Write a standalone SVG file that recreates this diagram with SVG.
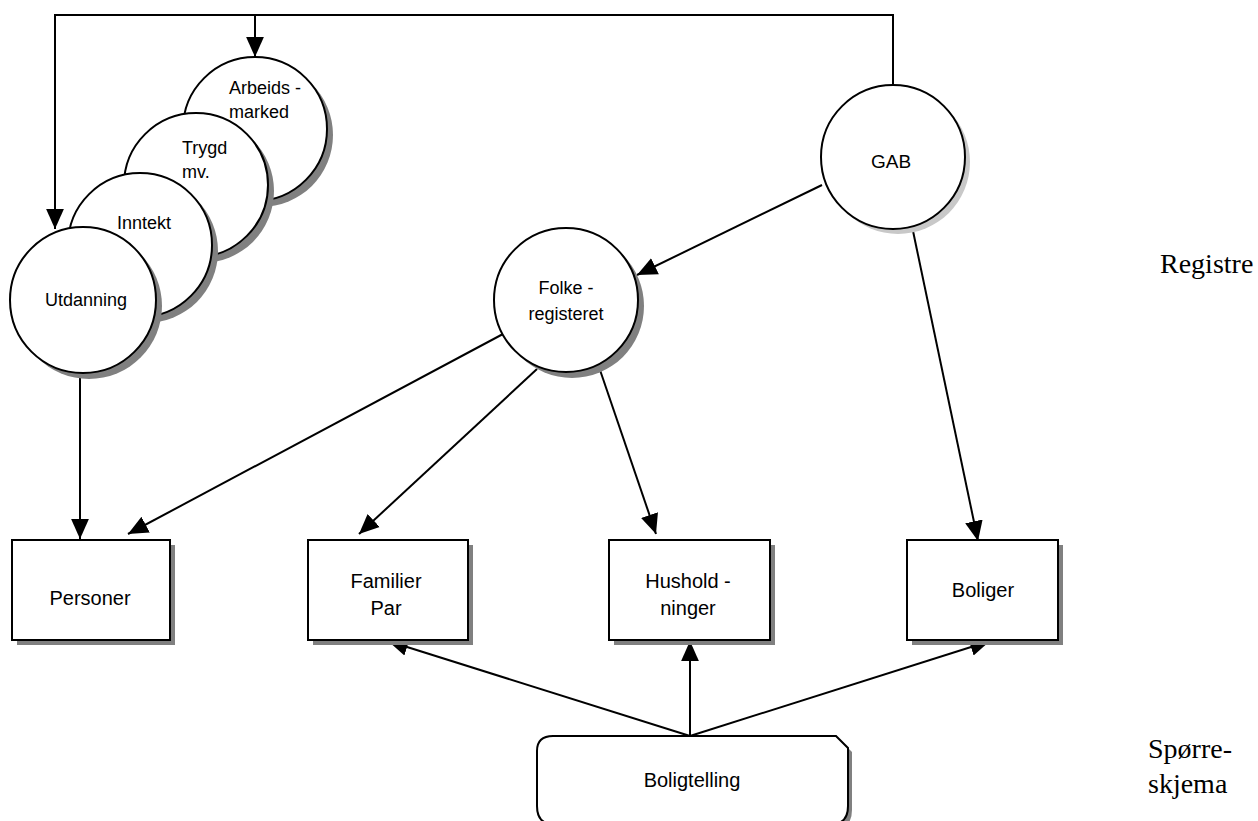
<svg xmlns="http://www.w3.org/2000/svg" width="1258" height="821" viewBox="0 0 1258 821">
<style>
.c{fill:#fff;stroke:#000;stroke-width:2}
.sd{fill:#808080}
.sl{fill:#c8c8c8}
.t{font-family:"Liberation Sans",Arial,sans-serif;font-size:18px;fill:#000}
.b{font-size:20px}
.m{text-anchor:middle}
.r{font-family:"Liberation Serif","Times New Roman",serif;font-size:28px;fill:#000}
.ln{fill:none;stroke:#000;stroke-width:2}
</style>
<defs>
<marker id="ah" markerUnits="userSpaceOnUse" markerWidth="20" markerHeight="20" viewBox="0 0 18 18" refX="18" refY="9" orient="auto">
<path d="M0,1 L18,9 L0,17 Z" fill="#000"/>
</marker>
</defs>
<rect width="1258" height="821" fill="#fff"/>
<g id="connectors">
<polyline class="ln" points="893,85 893,15 55,15 55,229" marker-end="url(#ah)"/>
<line class="ln" x1="255" y1="15" x2="255" y2="57" marker-end="url(#ah)"/>
<line class="ln" x1="822" y1="185" x2="637" y2="275" marker-end="url(#ah)"/>
<line class="ln" x1="913" y1="231" x2="978" y2="541" marker-end="url(#ah)"/>
<line class="ln" x1="80" y1="372" x2="80" y2="539" marker-end="url(#ah)"/>
<line class="ln" x1="503" y1="334" x2="128" y2="534" marker-end="url(#ah)"/>
<line class="ln" x1="537" y1="369" x2="359" y2="534" marker-end="url(#ah)"/>
<line class="ln" x1="600" y1="370" x2="656" y2="534" marker-end="url(#ah)"/>
<line class="ln" x1="690" y1="736" x2="388" y2="641" marker-end="url(#ah)"/>
<line class="ln" x1="690" y1="736" x2="690" y2="641" marker-end="url(#ah)"/>
<line class="ln" x1="690" y1="736" x2="990" y2="641" marker-end="url(#ah)"/>
</g>
<g id="node-arbeidsmarked">
<circle class="sd" cx="261" cy="135" r="72"/>
<circle class="c" cx="255" cy="129" r="72"/>
<text class="t" x="229" y="94">Arbeids -</text>
<text class="t" x="229" y="118">marked</text>
</g>
<g id="node-trygd">
<circle class="sd" cx="202" cy="191" r="72"/>
<circle class="c" cx="196" cy="185" r="72"/>
<text class="t" x="182" y="154">Trygd</text>
<text class="t" x="182" y="178">mv.</text>
</g>
<g id="node-inntekt">
<circle class="sd" cx="146" cy="251" r="72"/>
<circle class="c" cx="140" cy="245" r="72"/>
<text class="t" x="117" y="229">Inntekt</text>
</g>
<g id="node-utdanning">
<circle class="sd" cx="89" cy="306" r="73"/>
<circle class="c" cx="83" cy="300" r="73"/>
<text class="t m" x="86" y="306">Utdanning</text>
</g>
<g id="node-gab">
<circle class="sl" cx="898" cy="162" r="72"/>
<circle class="c" cx="893" cy="157" r="72"/>
<text class="t m" x="891" y="168" style="font-size:19px">GAB</text>
</g>
<g id="node-folkeregisteret">
<circle class="sd" cx="572" cy="306" r="72"/>
<circle class="c" cx="566" cy="300" r="72"/>
<text class="t m" x="566" y="294">Folke -</text>
<text class="t m" x="566" y="320">registeret</text>
</g>
<g id="node-personer">
<rect class="sd" x="17" y="545" width="158" height="100"/>
<rect class="c" x="12" y="540" width="158" height="100"/>
<text class="t b m" x="90" y="605">Personer</text>
</g>
<g id="node-familier">
<rect class="sd" x="313" y="545" width="160" height="100"/>
<rect class="c" x="308" y="540" width="160" height="100"/>
<text class="t b m" x="386" y="588">Familier</text>
<text class="t b m" x="386" y="615">Par</text>
</g>
<g id="node-husholdninger">
<rect class="sd" x="614" y="545" width="161" height="100"/>
<rect class="c" x="609" y="540" width="161" height="100"/>
<text class="t b m" x="688" y="588">Hushold -</text>
<text class="t b m" x="688" y="615">ninger</text>
</g>
<g id="node-boliger">
<rect class="sd" x="912" y="545" width="151" height="100"/>
<rect class="c" x="907" y="540" width="151" height="100"/>
<text class="t b m" x="983" y="597">Boliger</text>
</g>
<g id="node-boligtelling">
<path class="sd" d="M556,740 H840 L852,752 V810 Q852,828 836,828 H556 Q541,828 541,810 V754 Q541,740 556,740 Z"/>
<path class="c" d="M553,736 H836 L848,748 V806 Q848,824 832,824 H553 Q537,824 537,806 V751 Q537,736 553,736 Z"/>
<text class="t b m" x="692" y="787">Boligtelling</text>
</g>
<g id="labels">
<text class="r" x="1160" y="273">Registre</text>
<text class="r" x="1148" y="758">Spørre-</text>
<text class="r" x="1148" y="793">skjema</text>
</g>
</svg>
